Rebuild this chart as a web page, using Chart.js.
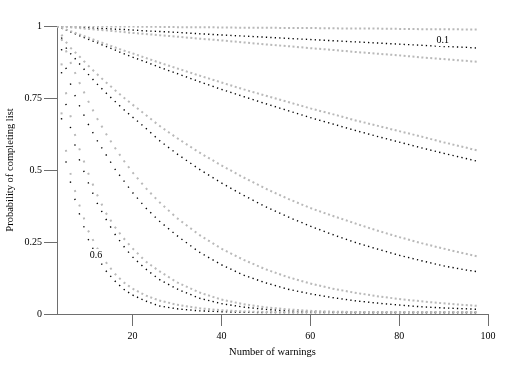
<!DOCTYPE html>
<html>
<head>
<meta charset="utf-8">
<script src="https://cdn.jsdelivr.net/npm/chart.js@4"></script>
<style>
  html, body { margin: 0; padding: 0; background: #fff; }
</style>
</head>
<body>
<canvas id="chart" width="505" height="370"></canvas>
<script>
// number of warnings (x) shared by every curve
const warnings = [3, 4, 5, 6, 7, 8, 10, 12, 14, 16, 18, 20, 23, 26, 30, 35, 40, 45, 50, 55, 60, 65, 70, 75, 80, 85, 90, 95, 98];

// black curves, labelled 0.1 ... 0.6
const black01 = [1.000, 0.999, 0.998, 0.997, 0.997, 0.996, 0.994, 0.992, 0.991, 0.989, 0.988, 0.986, 0.983, 0.981, 0.978, 0.973, 0.969, 0.965, 0.961, 0.957, 0.953, 0.949, 0.945, 0.941, 0.937, 0.933, 0.929, 0.926, 0.923];
const black02 = [1.000, 0.993, 0.987, 0.980, 0.974, 0.967, 0.954, 0.942, 0.929, 0.917, 0.904, 0.892, 0.875, 0.857, 0.835, 0.807, 0.780, 0.755, 0.730, 0.706, 0.682, 0.660, 0.638, 0.617, 0.597, 0.577, 0.558, 0.540, 0.529];
const black03 = [1.000, 0.960, 0.925, 0.905, 0.888, 0.870, 0.833, 0.799, 0.768, 0.739, 0.710, 0.684, 0.645, 0.603, 0.556, 0.503, 0.455, 0.412, 0.372, 0.337, 0.305, 0.276, 0.249, 0.226, 0.204, 0.185, 0.167, 0.153, 0.146];
const black04 = [1.000, 0.920, 0.855, 0.800, 0.760, 0.725, 0.660, 0.603, 0.554, 0.504, 0.463, 0.422, 0.368, 0.323, 0.272, 0.215, 0.171, 0.135, 0.108, 0.086, 0.070, 0.057, 0.046, 0.038, 0.031, 0.025, 0.021, 0.018, 0.016];
const black05 = [1.000, 0.840, 0.730, 0.650, 0.589, 0.537, 0.457, 0.386, 0.330, 0.278, 0.235, 0.198, 0.156, 0.120, 0.087, 0.055, 0.036, 0.024, 0.016, 0.011, 0.008, 0.006, 0.005, 0.005, 0.005, 0.005, 0.005, 0.005, 0.005];
const black06 = [1.000, 0.680, 0.530, 0.460, 0.400, 0.350, 0.260, 0.200, 0.150, 0.115, 0.086, 0.066, 0.045, 0.028, 0.018, 0.011, 0.008, 0.006, 0.005, 0.005, 0.005, 0.005, 0.005, 0.005, 0.005, 0.005, 0.005, 0.005, 0.005];

// grey curves
const greyA = [1.000, 1.000, 1.000, 0.999, 0.999, 0.999, 0.999, 0.999, 0.998, 0.998, 0.998, 0.998, 0.997, 0.997, 0.996, 0.996, 0.995, 0.994, 0.994, 0.993, 0.993, 0.992, 0.991, 0.991, 0.990, 0.989, 0.989, 0.988, 0.988];
const greyB = [1.000, 0.999, 0.997, 0.996, 0.994, 0.993, 0.990, 0.987, 0.985, 0.982, 0.979, 0.976, 0.972, 0.968, 0.963, 0.956, 0.950, 0.943, 0.936, 0.930, 0.923, 0.917, 0.910, 0.904, 0.898, 0.891, 0.885, 0.879, 0.875];
const greyC = [1.000, 0.994, 0.988, 0.982, 0.977, 0.971, 0.960, 0.948, 0.937, 0.926, 0.915, 0.905, 0.889, 0.873, 0.853, 0.828, 0.804, 0.780, 0.758, 0.736, 0.714, 0.694, 0.673, 0.654, 0.635, 0.616, 0.596, 0.578, 0.566];
const greyD = [1.000, 0.970, 0.945, 0.925, 0.910, 0.895, 0.863, 0.833, 0.805, 0.778, 0.752, 0.727, 0.691, 0.654, 0.611, 0.561, 0.516, 0.474, 0.435, 0.400, 0.368, 0.341, 0.315, 0.290, 0.267, 0.246, 0.227, 0.209, 0.199];
const greyE = [1.000, 0.955, 0.915, 0.875, 0.840, 0.805, 0.740, 0.680, 0.627, 0.578, 0.533, 0.492, 0.437, 0.389, 0.333, 0.275, 0.227, 0.188, 0.155, 0.128, 0.106, 0.088, 0.074, 0.062, 0.052, 0.044, 0.037, 0.031, 0.028];
const greyF = [1.000, 0.870, 0.770, 0.690, 0.625, 0.575, 0.490, 0.415, 0.351, 0.303, 0.263, 0.228, 0.182, 0.149, 0.110, 0.075, 0.050, 0.034, 0.023, 0.016, 0.011, 0.008, 0.007, 0.006, 0.006, 0.006, 0.006, 0.006, 0.006];
const greyG = [1.000, 0.700, 0.570, 0.490, 0.430, 0.380, 0.290, 0.230, 0.180, 0.140, 0.110, 0.088, 0.064, 0.047, 0.032, 0.020, 0.013, 0.009, 0.007, 0.006, 0.006, 0.006, 0.006, 0.006, 0.006, 0.006, 0.006, 0.006, 0.006];

const xTicks = [20, 40, 60, 80, 100];
const yTicks = [0, 0.25, 0.5, 0.75, 1];
const yTickLabels = ["0", "0.25", "0.5", "0.75", "1"];

const labelText = ["0.1", "0.6"];
const labelX = [89.8, 11.8];
const labelY = [0.951, 0.205];

const serif = '"Liberation Serif", "Times New Roman", serif';
const axisColor = "#6e6e6e";

Chart.defaults.font.family = serif;
Chart.defaults.font.size = 10;
Chart.defaults.color = "#000";

// one dot per warning along each segment
function dotDash(ctx, dot) {
  const xScale = ctx.chart.scales.x;
  const unit = xScale.getPixelForValue(1) - xScale.getPixelForValue(0);
  const dx = ctx.p1.x - ctx.p0.x;
  const dy = ctx.p1.y - ctx.p0.y;
  const step = Math.hypot(dx, dy) * unit / dx;
  return [dot, step - dot];
}

function toPoints(values) {
  return values.map((v, i) => ({ x: warnings[i], y: v }));
}

function greyCurve(values) {
  return {
    data: toPoints(values),
    borderColor: "#b9b9b9",
    borderWidth: 2,
    pointRadius: 0,
    showLine: true,
    segment: { borderDash: (ctx) => dotDash(ctx, 2) },
  };
}

function blackCurve(values) {
  return {
    data: toPoints(values),
    borderColor: "#000",
    borderWidth: 1.4,
    pointRadius: 0,
    showLine: true,
    segment: { borderDash: (ctx) => dotDash(ctx, 1.3) },
  };
}

const curveLabels = {
  id: "curveLabels",
  afterDatasetsDraw(chart) {
    const { ctx, scales } = chart;
    ctx.save();
    ctx.font = "10px " + serif;
    ctx.textAlign = "center";
    ctx.textBaseline = "middle";
    labelText.forEach((text, i) => {
      const px = scales.x.getPixelForValue(labelX[i]);
      const py = scales.y.getPixelForValue(labelY[i]);
      const w = ctx.measureText(text).width;
      ctx.fillStyle = "#fff";
      ctx.fillRect(px - w / 2 - 1, py - 6, w + 2, 12);
      ctx.fillStyle = "#000";
      ctx.fillText(text, px, py);
    });
    ctx.restore();
  },
};

const canvas = document.getElementById("chart").getContext("2d");

new Chart(canvas, {
  type: "scatter",
  data: {
    datasets: [
      greyCurve(greyA),
      greyCurve(greyB),
      greyCurve(greyC),
      greyCurve(greyD),
      greyCurve(greyE),
      greyCurve(greyF),
      greyCurve(greyG),
      blackCurve(black01),
      blackCurve(black02),
      blackCurve(black03),
      blackCurve(black04),
      blackCurve(black05),
      blackCurve(black06),
    ],
  },
  options: {
    responsive: false,
    animation: false,
    layout: { padding: { left: 0, right: 17, top: 26, bottom: 8 } },
    plugins: {
      legend: { display: false },
      tooltip: { enabled: false },
    },
    scales: {
      x: {
        type: "linear",
        min: 3,
        max: 100,
        afterBuildTicks: (scale) => {
          scale.ticks = xTicks.map((v) => ({ value: v }));
        },
        afterFit: (scale) => {
          scale.height = 48;
        },
        ticks: { padding: 4, maxRotation: 0, autoSkip: false, callback: (v) => String(v) },
        grid: { drawOnChartArea: false, drawTicks: true, tickLength: 12, color: axisColor },
        border: { display: true, color: axisColor },
        title: {
          display: true,
          text: "Number of warnings",
          font: { size: 10.5, family: serif },
          padding: { top: 0, bottom: 3 },
        },
      },
      y: {
        type: "linear",
        min: 0,
        max: 1,
        afterBuildTicks: (scale) => {
          scale.ticks = yTicks.map((v) => ({ value: v }));
        },
        afterFit: (scale) => {
          scale.width = 57;
        },
        ticks: { padding: 2, callback: (v) => yTickLabels[yTicks.indexOf(v)] },
        grid: { drawOnChartArea: false, drawTicks: true, tickLength: 13, color: axisColor },
        border: { display: true, color: axisColor },
        title: {
          display: true,
          text: "Probability of completing list",
          font: { size: 10.5, family: serif },
          padding: { top: 4, bottom: 0 },
        },
      },
    },
  },
  plugins: [curveLabels],
});
</script>
</body>
</html>
